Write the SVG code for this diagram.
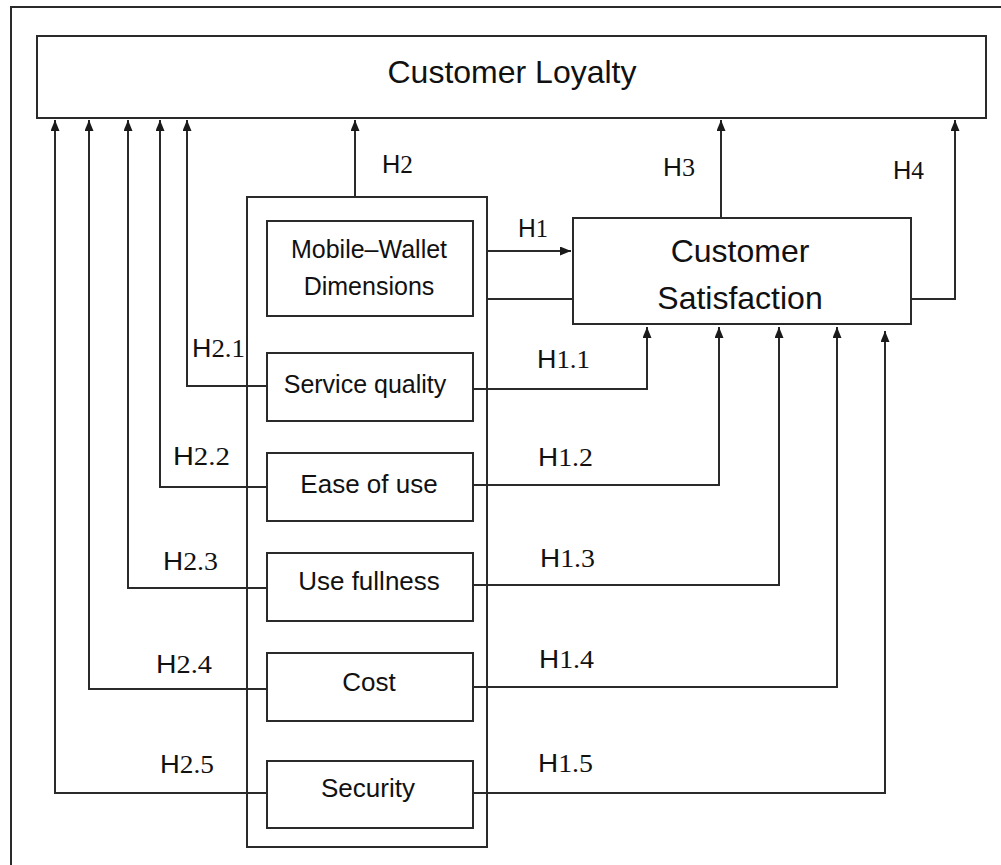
<svg xmlns="http://www.w3.org/2000/svg" width="1001" height="865" viewBox="0 0 1001 865">
<defs>
<marker id="arr" markerUnits="userSpaceOnUse" markerWidth="12" markerHeight="10" refX="11" refY="4.5" orient="auto">
<path d="M0,0 L11,4.5 L0,9 z" fill="#1a1a1a"/>
</marker>
<style>
.box{fill:#fff;stroke:#2a2a2a;stroke-width:2}
.frame{fill:none;stroke:#2a2a2a;stroke-width:2}
.ln{fill:none;stroke:#2a2a2a;stroke-width:2}
.ar{fill:none;stroke:#2a2a2a;stroke-width:2;marker-end:url(#arr)}
.t{font-family:"Liberation Sans",Arial,sans-serif;fill:#111;text-anchor:middle}
.h{font-family:"Liberation Sans",Arial,sans-serif;font-size:26px;fill:#111}
.d{font-family:"Liberation Serif","Times New Roman",serif}
</style>
</defs>
<rect width="1001" height="865" fill="#fff"/>
<rect class="frame" x="11" y="7" width="1000" height="870"/>

<g id="dimensions-group">
<rect class="frame" x="247" y="197" width="240" height="650"/>
</g>

<g id="connectors">
<path class="ar" d="M355,197 V120"/>
<path class="ar" d="M487,251 H571"/>
<path class="ln" d="M487,299 H573"/>
<path class="ar" d="M721,218 V120"/>
<path class="ar" d="M911,299 H955 V120"/>
<path class="ar" d="M473,389 H647 V327"/>
<path class="ar" d="M473,485 H719 V327"/>
<path class="ar" d="M473,585 H779 V327"/>
<path class="ar" d="M473,687 H837 V327"/>
<path class="ar" d="M473,793 H885 V331"/>
<path class="ar" d="M267,386 H187 V120"/>
<path class="ar" d="M267,487 H160 V120"/>
<path class="ar" d="M267,588 H128 V120"/>
<path class="ar" d="M267,689 H89 V120"/>
<path class="ar" d="M267,793 H55 V120"/>
</g>

<g id="labels">
<text class="h" x="382" y="173" textLength="31" lengthAdjust="spacingAndGlyphs">H<tspan class="d">2</tspan></text>
<text class="h" x="518" y="237" textLength="30" lengthAdjust="spacingAndGlyphs">H<tspan class="d">1</tspan></text>
<text class="h" x="663" y="176" textLength="32" lengthAdjust="spacingAndGlyphs">H<tspan class="d">3</tspan></text>
<text class="h" x="893" y="179" textLength="31" lengthAdjust="spacingAndGlyphs">H<tspan class="d">4</tspan></text>
<text class="h" x="192" y="357" textLength="53" lengthAdjust="spacingAndGlyphs">H<tspan class="d">2.1</tspan></text>
<text class="h" x="173" y="465" textLength="57" lengthAdjust="spacingAndGlyphs">H<tspan class="d">2.2</tspan></text>
<text class="h" x="163" y="570" textLength="55" lengthAdjust="spacingAndGlyphs">H<tspan class="d">2.3</tspan></text>
<text class="h" x="156" y="673" textLength="56" lengthAdjust="spacingAndGlyphs">H<tspan class="d">2.4</tspan></text>
<text class="h" x="160" y="773" textLength="54" lengthAdjust="spacingAndGlyphs">H<tspan class="d">2.5</tspan></text>
<text class="h" x="537" y="368" textLength="53" lengthAdjust="spacingAndGlyphs">H<tspan class="d">1.1</tspan></text>
<text class="h" x="538" y="466" textLength="55" lengthAdjust="spacingAndGlyphs">H<tspan class="d">1.2</tspan></text>
<text class="h" x="540" y="567" textLength="55" lengthAdjust="spacingAndGlyphs">H<tspan class="d">1.3</tspan></text>
<text class="h" x="539" y="668" textLength="55" lengthAdjust="spacingAndGlyphs">H<tspan class="d">1.4</tspan></text>
<text class="h" x="538" y="772" textLength="55" lengthAdjust="spacingAndGlyphs">H<tspan class="d">1.5</tspan></text>
</g>

<g id="customer-loyalty">
<rect class="box" x="37" y="36" width="949" height="82"/>
<text class="t" x="512" y="83" font-size="32">Customer Loyalty</text>
</g>

<g id="mobile-wallet">
<rect class="box" x="267" y="221" width="206" height="95"/>
<text class="t" x="369" y="258" font-size="25">Mobile–Wallet</text>
<text class="t" x="369" y="295" font-size="25">Dimensions</text>
</g>

<g id="service-quality">
<rect class="box" x="267" y="353" width="206" height="68"/>
<text class="t" x="365" y="393" font-size="25">Service quality</text>
</g>

<g id="ease-of-use">
<rect class="box" x="267" y="453" width="206" height="68"/>
<text class="t" x="369" y="493" font-size="26">Ease of use</text>
</g>

<g id="use-fullness">
<rect class="box" x="267" y="553" width="206" height="68"/>
<text class="t" x="369" y="590" font-size="26">Use fullness</text>
</g>

<g id="cost">
<rect class="box" x="267" y="653" width="206" height="68"/>
<text class="t" x="369" y="691" font-size="26">Cost</text>
</g>

<g id="security">
<rect class="box" x="267" y="761" width="206" height="67"/>
<text class="t" x="368" y="797" font-size="26">Security</text>
</g>

<g id="customer-satisfaction">
<rect class="box" x="573" y="218" width="338" height="106"/>
<text class="t" x="740" y="262" font-size="32">Customer</text>
<text class="t" x="740" y="309" font-size="32">Satisfaction</text>
</g>
</svg>
